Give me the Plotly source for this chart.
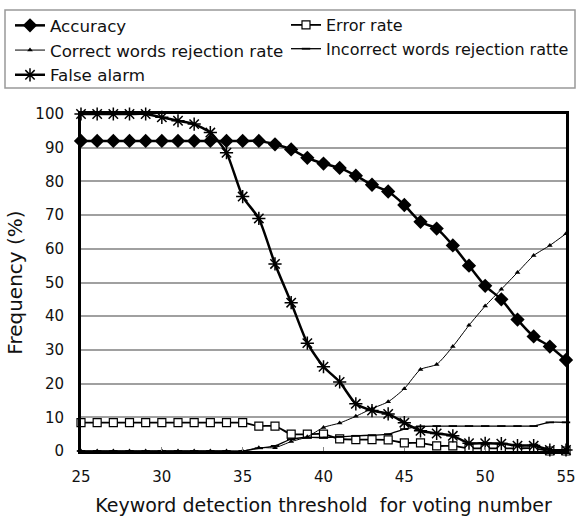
import plotly.graph_objects as go

thresholds = list(range(25, 56))

accuracy = [92, 92, 92, 92, 92, 92, 92, 92, 92, 92, 92, 92, 91, 89.5, 87, 85.3,
            84, 81.7, 79, 77, 73, 68, 66, 61, 55, 49, 45, 39, 34, 31, 27]
error_rate = [8.4, 8.4, 8.4, 8.4, 8.4, 8.4, 8.4, 8.4, 8.4, 8.4, 8.4, 7.4, 7.4, 5, 5, 5,
              3.6, 3.4, 3.4, 3.3, 2.4, 2.4, 1.5, 1.5, 0.8, 0.8, 0.8, 0.8, 0.8, 0, 0]
correct_rej = [0, 0, 0, 0, 0, 0, 0, 0, 0, 0, 0, 1, 1, 2.8, 4.2, 7,
               8.3, 10.3, 12.6, 14.6, 18.5, 24.2, 25.7, 31, 37.3, 43, 48, 53, 58, 61, 64.5]
incorrect_rej = [0, 0, 0, 0, 0, 0, 0, 0, 0, 0, 0, 0.8, 1.5, 3.5, 4, 4,
                 4.2, 4.5, 4.7, 5, 6.5, 7.3, 7.4, 7.4, 7.4, 7.4, 7.4, 7.4, 7.4, 8.5, 8.5]
false_alarm = [100, 100, 100, 100, 100, 99, 98, 97, 94.5, 88.5, 75.5, 69, 55.5, 44, 32, 25,
               20.5, 14, 12, 11, 8.4, 6, 5.2, 4.5, 2.3, 2.3, 2.2, 1.6, 1.6, 0.3, 0.3]

x_ticks = [25, 30, 35, 40, 45, 50, 55]
y_ticks = [0, 10, 20, 30, 40, 50, 60, 70, 80, 90, 100]

FONT = "DejaVu Sans"
INK = "#111111"
W, H = 580, 522
# plot area in pixels
PL, PR, PT, PB = 81, 566, 114, 451


def fx(p):
    return p / W


def fy(p):
    return 1 - p / H


fig = go.Figure()


def add(name, y, symbol, size, lw, mfill, mline, mlw, legend):
    fig.add_trace(go.Scatter(
        x=thresholds, y=y, name=name, mode="lines+markers",
        line=dict(color="black", width=lw, shape="spline", smoothing=0.6),
        marker=dict(symbol=symbol, size=size, color=mfill,
                    line=dict(color=mline, width=mlw)),
        cliponaxis=False, legend=legend,
    ))


add("Accuracy", accuracy, "diamond", 11, 2.5, "black", "black", 0, "legend")
add("Error rate", error_rate, "square", 8, 1.8, "white", "black", 1.2, "legend2")
add("Correct words rejection rate", correct_rej, "triangle-up", 5, 1, "black", "black", 0, "legend")
add("Incorrect words rejection ratte", incorrect_rej, "line-ew", 6, 1.3, "black", "black", 1.8, "legend2")
add("False alarm", false_alarm, "asterisk", 11, 2.5, "black", "black", 1.5, "legend")

leg_common = dict(
    orientation="v", xanchor="left", yanchor="top",
    bgcolor="rgba(0,0,0,0)", borderwidth=0,
    traceorder="normal", tracegroupgap=0, itemwidth=30,
)

fig.update_layout(
    width=W, height=H,
    margin=dict(l=0, r=0, t=0, b=0, autoexpand=False),
    paper_bgcolor="white", plot_bgcolor="white",
    font=dict(family=FONT, color=INK, size=15),
    showlegend=True,
    legend=dict(x=fx(10), y=fy(8), font=dict(family=FONT, size=16.7, color=INK),
                **leg_common),
    legend2=dict(x=fx(286), y=fy(8), font=dict(family=FONT, size=16, color=INK),
                 **leg_common),
    shapes=[dict(type="rect", xref="paper", yref="paper",
                 x0=fx(5), x1=fx(575), y0=fy(88), y1=fy(10),
                 line=dict(color="#999999", width=1.5), fillcolor="rgba(0,0,0,0)",
                 layer="above")],
    xaxis=dict(
        domain=[fx(PL), fx(PR)],
        range=[25, 55], tickvals=x_ticks, ticktext=[str(v) for v in x_ticks],
        showgrid=False, zeroline=False, automargin=False,
        showline=True, linecolor="black", linewidth=3, mirror=True,
        ticks="inside", ticklen=4, tickcolor="#888888",
        tickfont=dict(size=15, family=FONT, color=INK),
        ticklabelstandoff=10,
        title=dict(text="Keyword detection threshold\u00a0 for voting number",
                   font=dict(size=19, family=FONT, color=INK), standoff=14),
    ),
    yaxis=dict(
        domain=[fy(PB), fy(PT)],
        range=[0, 100], tickvals=y_ticks, ticktext=[str(v) for v in y_ticks],
        showgrid=True, gridcolor="#a0a0a0", gridwidth=1.5, zeroline=False,
        automargin=False,
        showline=True, linecolor="black", linewidth=3, mirror=True,
        ticks="", tickfont=dict(size=15, family=FONT, color=INK),
        ticklabelstandoff=11,
        title=dict(text="Frequency (%)", font=dict(size=20, family=FONT, color=INK),
                   standoff=8),
    ),
)

fig.write_html("out.html")
